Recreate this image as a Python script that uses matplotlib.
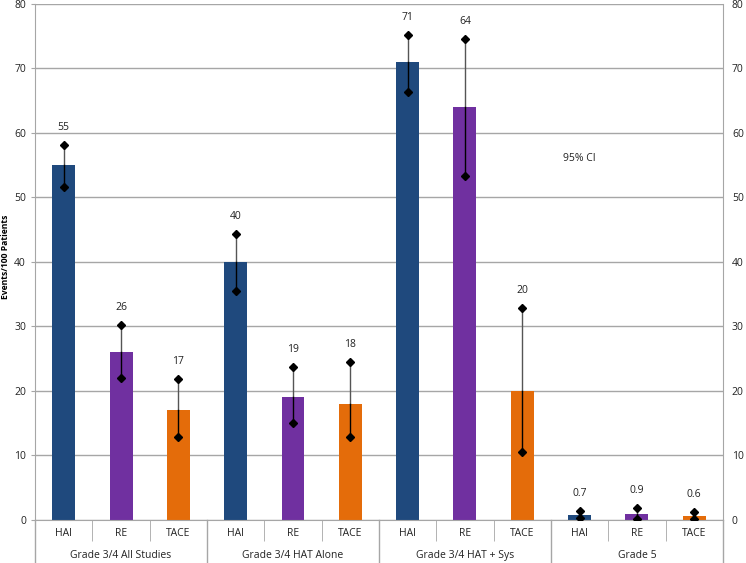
import matplotlib
matplotlib.use("Agg")
import matplotlib.pyplot as plt
import numpy as np

plt.rcParams['font.family'] = ['Open Sans', 'DejaVu Sans']

groups = ["Grade 3/4 All Studies", "Grade 3/4 HAT Alone", "Grade 3/4 HAT + Sys", "Grade 5"]
treatments = ["HAI", "RE", "TACE"]
values = [55, 26, 17, 40, 19, 18, 71, 64, 20, 0.7, 0.9, 0.6]
value_labels = ["55", "26", "17", "40", "19", "18", "71", "64", "20", "0.7", "0.9", "0.6"]
ci_upper = [58.1, 30.2, 21.8, 44.4, 23.7, 24.5, 75.2, 74.6, 32.9, 1.35, 1.9, 1.2]
ci_lower = [51.6, 22.0, 12.9, 35.5, 15.1, 12.9, 66.4, 53.3, 10.5, 0.3, 0.2, 0.2]
colors_by_treatment = {"HAI": "#1F497D", "RE": "#7030A0", "TACE": "#E46C0A"}

fig = plt.figure(figsize=(7.46, 5.63), dpi=100)
ax = fig.add_axes([0.047, 0.0764, 0.922, 0.9165])

n = len(values)
x = np.arange(n)
cats = [treatments[i % 3] for i in range(n)]
cols = [colors_by_treatment[c] for c in cats]

ax.set_ylim(0, 80)
ax.set_xlim(-0.5, n - 0.5)
ax.set_yticks(np.arange(0, 81, 10))
ax.yaxis.grid(True, color="#A6A6A6", linewidth=1.0)
ax.set_axisbelow(True)

ax.bar(x, values, width=0.4, color=cols, zorder=2)

for xi, lo, hi, v in zip(x, ci_lower, ci_upper, values):
    ax.plot([xi, xi], [v, hi], color="#555555", lw=1.0, zorder=3)
    ax.plot([xi, xi], [lo, v], color="black", lw=1.0, zorder=3)
    ax.plot([xi, xi], [lo, hi], ls="none", marker="D", ms=4, color="black", zorder=4)

for xi, hi, lab in zip(x, ci_upper, value_labels):
    ax.text(xi, hi + 2.7, lab, ha="center", va="center", fontsize=7.5, color="#222222")

ax.text(9.0, 56, "95% CI", ha="center", va="center", fontsize=7.5, color="#222222")

ax.spines["top"].set_visible(False)
for s in ["left", "right", "bottom"]:
    ax.spines[s].set_color("#A6A6A6")

ax.tick_params(axis="y", labelsize=7.5, colors="#222222", labelright=True, right=False,
               length=3, color="#A6A6A6")
ax.set_ylabel("Events/100 Patients", fontsize=6.2, fontweight="bold")
ax.yaxis.set_label_coords(-0.037, 0.51)

ax.set_xticks(x)
ax.set_xticklabels(cats, fontsize=7.5, color="#222222")
ax.tick_params(axis="x", which="major", length=0, pad=6)
bounds = np.arange(-0.5, n, 1.0)
ax.set_xticks(bounds, minor=True)
ax.tick_params(axis="x", which="minor", length=15, color="#A6A6A6", direction="out")

trans = ax.get_xaxis_transform()
for b in np.arange(-0.5, n + 0.01, 3.0):
    ax.plot([b, b], [0, -0.09], transform=trans, color="#A6A6A6", lw=1.0, clip_on=False)
for gi, g in enumerate(groups):
    ax.text(gi * 3 + 1, -0.069, g, transform=trans, ha="center", va="center", fontsize=7.5, color="#222222")

fig.savefig("out.png", dpi=100)
